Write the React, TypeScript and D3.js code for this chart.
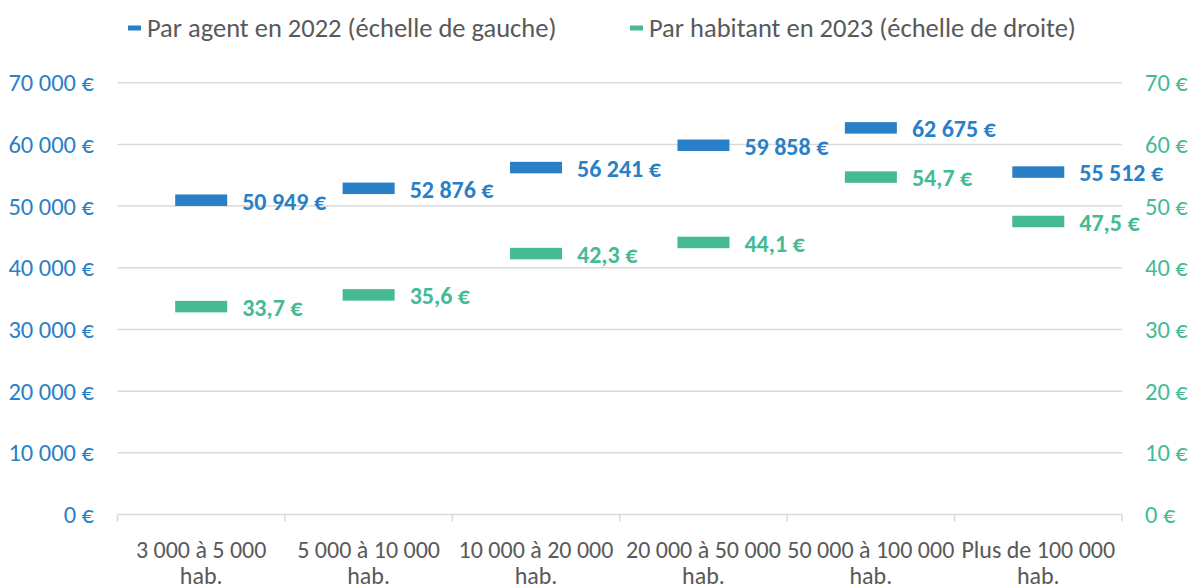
import React, { useEffect, useRef } from 'react';
import * as d3 from 'd3';

const categories = [
  ['3 000 à 5 000', 'hab.'],
  ['5 000 à 10 000', 'hab.'],
  ['10 000 à 20 000', 'hab.'],
  ['20 000 à 50 000', 'hab.'],
  ['50 000 à 100 000', 'hab.'],
  ['Plus de 100 000', 'hab.'],
];
const parAgent2022 = [50949, 52876, 56241, 59858, 62675, 55512];
const parHabitant2023 = [33.7, 35.6, 42.3, 44.1, 54.7, 47.5];
const leftTicks = [0, 10000, 20000, 30000, 40000, 50000, 60000, 70000];
const rightTicks = [0, 10, 20, 30, 40, 50, 60, 70];
const seriesNames = ['Par agent en 2022 (échelle de gauche)', 'Par habitant en 2023 (échelle de droite)'];

const BLUE = '#2A80C6';
const GREEN = '#45BA95';
const GREY = '#595959';
const GRID = '#D9D9D9';
const FONT = "Carlito, Calibri, 'Liberation Sans', sans-serif";

const App = () => {
  const svgRef = useRef<SVGSVGElement>(null);

  useEffect(() => {
    const width = 1189;
    const height = 584;
    const margin = { top: 82.7, right: 67, bottom: 69.5, left: 117.5 };

    const svg = d3.select(svgRef.current);
    svg.selectAll('*').remove();
    svg.attr('width', width).attr('height', height).style('font-family', FONT);

    const x = d3.scaleBand<number>()
      .domain(categories.map((_, i) => i))
      .range([margin.left, width - margin.right]);
    const yLeft = d3.scaleLinear().domain([0, 70000]).range([height - margin.bottom, margin.top]);
    const yRight = d3.scaleLinear().domain([0, 70]).range([height - margin.bottom, margin.top]);

    const fmtEuro = (v: number) => d3.format(',')(v).replace(/,/g, ' ') + ' €';
    const fmtDec = (v: number) => v.toFixed(1).replace('.', ',') + ' €';

    // grid
    svg.append('g')
      .selectAll('line')
      .data(leftTicks.filter(t => t > 0))
      .join('line')
      .attr('x1', margin.left).attr('x2', width - margin.right)
      .attr('y1', d => yLeft(d)).attr('y2', d => yLeft(d))
      .attr('stroke', GRID).attr('stroke-width', 1.5);

    // x axis
    const base = yLeft(0);
    svg.append('line')
      .attr('x1', margin.left).attr('x2', width - margin.right)
      .attr('y1', base).attr('y2', base)
      .attr('stroke', GRID).attr('stroke-width', 1.5);
    const bounds = categories.map((_, i) => x(i)!).concat([width - margin.right]);
    svg.append('g')
      .selectAll('line')
      .data(bounds)
      .join('line')
      .attr('x1', d => d).attr('x2', d => d)
      .attr('y1', base).attr('y2', base + 7)
      .attr('stroke', GRID).attr('stroke-width', 1.5);

    const catG = svg.append('g')
      .selectAll('text')
      .data(categories)
      .join('text')
      .attr('text-anchor', 'middle')
      .attr('fill', GREY)
      .style('font-size', '24px');
    catG.append('tspan').attr('x', (_, i) => x(i)! + x.bandwidth() / 2).attr('y', 558).text(d => d[0]);
    catG.append('tspan').attr('x', (_, i) => x(i)! + x.bandwidth() / 2).attr('y', 584).text(d => d[1]);

    // left axis labels
    svg.append('g')
      .selectAll('text')
      .data(leftTicks)
      .join('text')
      .attr('x', 94)
      .attr('y', d => yLeft(d))
      .attr('dy', '0.35em')
      .attr('text-anchor', 'end')
      .attr('fill', BLUE)
      .style('font-size', '24.5px')
      .text(d => fmtEuro(d));

    // right axis labels
    svg.append('g')
      .selectAll('text')
      .data(rightTicks)
      .join('text')
      .attr('x', 1145)
      .attr('y', d => yRight(d))
      .attr('dy', '0.35em')
      .attr('fill', GREEN)
      .style('font-size', '24.5px')
      .text(d => d + ' €');

    const barW = 52;
    const barH = 11.5;

    const drawSeries = (values: number[], y: d3.ScaleLinear<number, number>, color: string, fmt: (v: number) => string) => {
      const g = svg.append('g');
      g.selectAll('rect')
        .data(values)
        .join('rect')
        .attr('x', (_, i) => x(i)! + x.bandwidth() / 2 - barW / 2)
        .attr('y', d => y(d) - barH / 2)
        .attr('width', barW)
        .attr('height', barH)
        .attr('fill', color);
      g.selectAll('text')
        .data(values)
        .join('text')
        .attr('x', (_, i) => x(i)! + x.bandwidth() / 2 + barW / 2 + 15)
        .attr('y', d => y(d) + 1)
        .attr('dy', '0.35em')
        .attr('fill', color)
        .style('font-size', '24px')
        .style('font-weight', 'bold')
        .text(d => fmt(d));
    };
    drawSeries(parAgent2022, yLeft, BLUE, fmtEuro);
    drawSeries(parHabitant2023, yRight, GREEN, fmtDec);

    // legend
    const legendItems = [
      { name: seriesNames[0], color: BLUE, x: 128 },
      { name: seriesNames[1], color: GREEN, x: 630 },
    ];
    const lg = svg.append('g')
      .selectAll('g')
      .data(legendItems)
      .join('g')
      .attr('transform', d => `translate(${d.x},28)`);
    lg.append('rect').attr('x', 0).attr('y', -2.5).attr('width', 13).attr('height', 5).attr('fill', d => d.color);
    lg.append('text')
      .attr('x', 19)
      .attr('dy', '0.35em')
      .attr('fill', GREY)
      .style('font-size', '26.5px')
      .text(d => d.name);
  }, []);

  return <svg ref={svgRef} style={{ display: 'block', position: 'absolute', left: 0, top: 0 }}></svg>;
};

export default App;
